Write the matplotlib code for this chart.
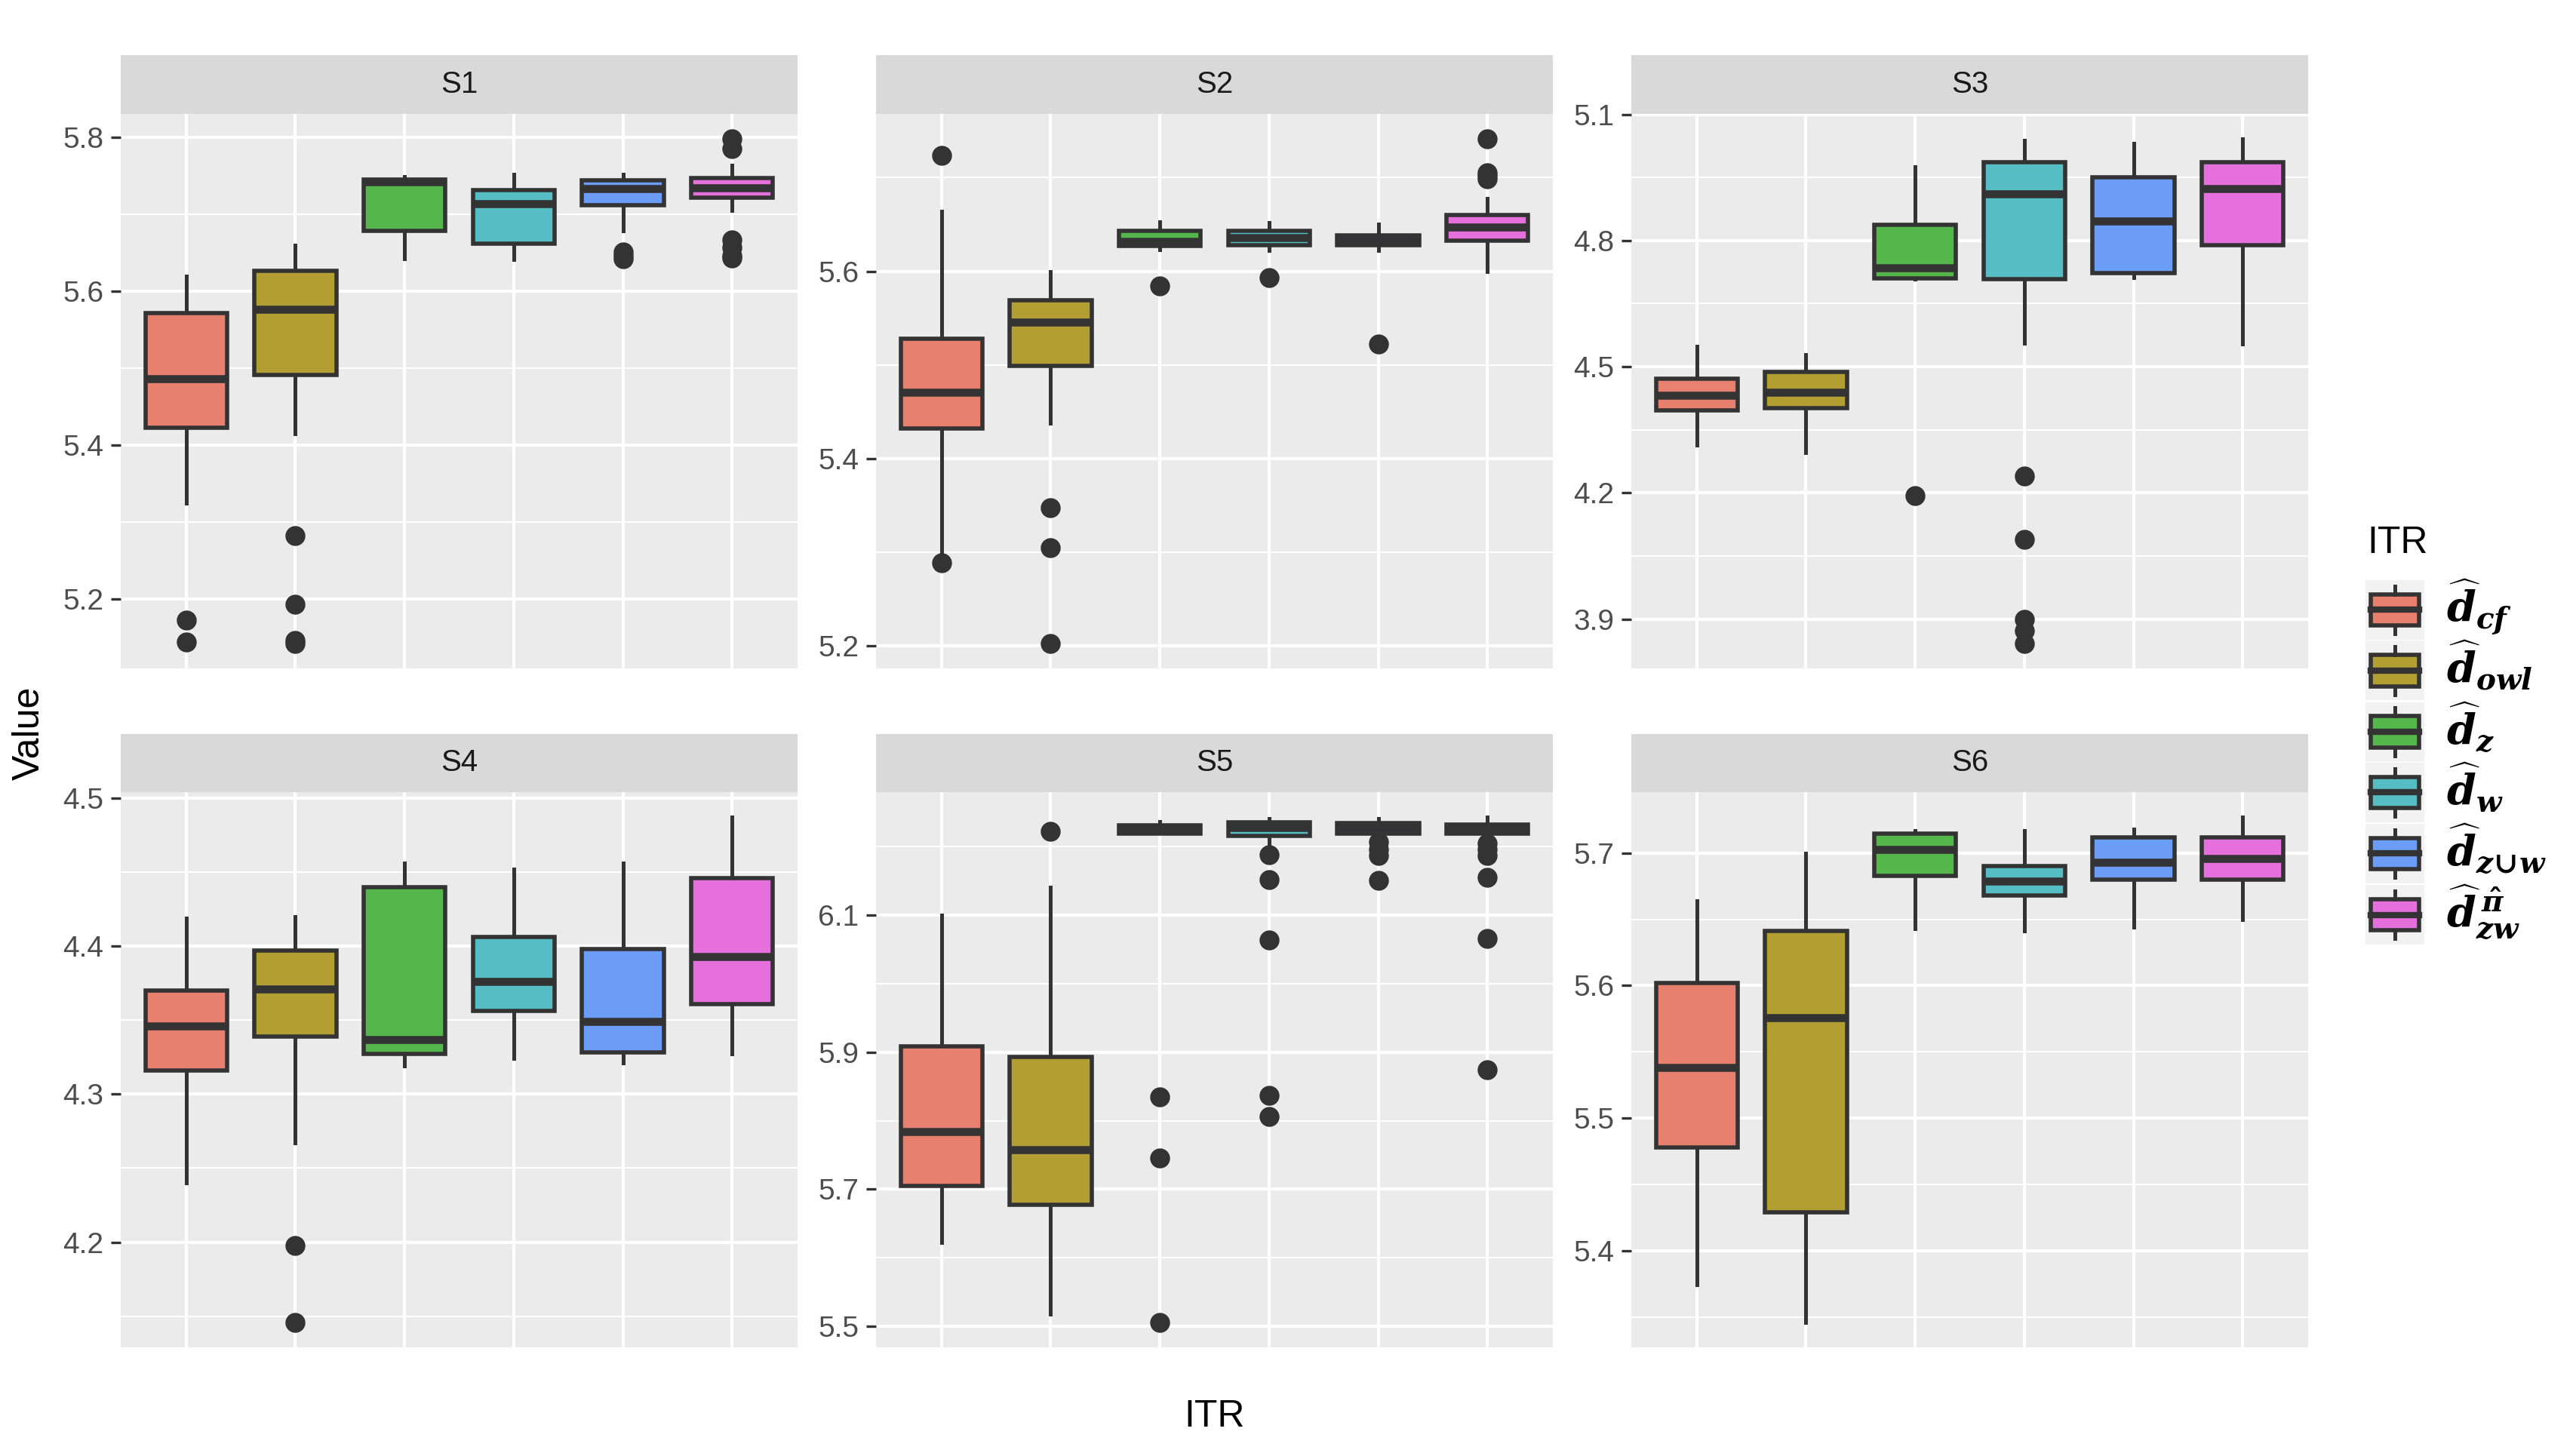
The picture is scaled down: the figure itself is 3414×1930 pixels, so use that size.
import numpy as np
import matplotlib
matplotlib.use("Agg")
import matplotlib.pyplot as plt
from matplotlib.ticker import FixedLocator, FormatStrFormatter
from matplotlib.patches import Rectangle, Patch
from matplotlib.lines import Line2D
from matplotlib.legend_handler import HandlerBase

plt.rcParams['font.family'] = ['Liberation Sans', 'DejaVu Sans']
plt.rcParams['mathtext.fontset'] = 'custom'
plt.rcParams['mathtext.it'] = 'DejaVu Serif:italic:bold'
plt.rcParams['mathtext.rm'] = 'DejaVu Serif:bold'
plt.rcParams['mathtext.bf'] = 'DejaVu Serif:italic:bold'

# ---------------- data ----------------
panels = ['S1', 'S2', 'S3', 'S4', 'S5', 'S6']
methods = [r'$\widehat{d}_{cf}$', r'$\widehat{d}_{owl}$', r'$\widehat{d}_{z}$',
           r'$\widehat{d}_{w}$', r'$\widehat{d}_{z\!\cup\! w}$', r'$\widehat{d}^{\,\hat{\pi}}_{zw}$']
colors = ['#E8806F', '#B39E33', '#54B64B', '#55BDC3', '#6B9DF7', '#E570DD']
tick_starts = [5.2, 5.2, 3.9, 4.2, 5.5, 5.4]
tick_steps = [0.2, 0.2, 0.3, 0.1, 0.2, 0.1]

s1_q1 = [5.422, 5.491, 5.679, 5.662, 5.712, 5.722]
s1_med = [5.486, 5.577, 5.742, 5.714, 5.734, 5.735]
s1_q3 = [5.572, 5.627, 5.745, 5.732, 5.744, 5.747]
s1_lo = [5.324, 5.415, 5.642, 5.641, 5.679, 5.705]
s1_hi = [5.620, 5.660, 5.749, 5.752, 5.752, 5.764]
s1_out = [[5.172, 5.144], [5.282, 5.193, 5.146, 5.142], [], [],
          [5.651, 5.646, 5.642], [5.798, 5.786, 5.667, 5.657, 5.646, 5.643]]

s2_q1 = [5.432, 5.499, 5.627, 5.628, 5.628, 5.633]
s2_med = [5.471, 5.546, 5.632, 5.636, 5.633, 5.647]
s2_q3 = [5.528, 5.569, 5.643, 5.643, 5.638, 5.660]
s2_lo = [5.295, 5.438, 5.623, 5.622, 5.622, 5.600]
s2_hi = [5.664, 5.600, 5.653, 5.652, 5.650, 5.678]
s2_out = [[5.724, 5.289], [5.348, 5.305, 5.203], [5.584], [5.593], [5.522],
          [5.741, 5.705, 5.702, 5.699]]

s3_q1 = [4.396, 4.401, 4.710, 4.709, 4.722, 4.789]
s3_med = [4.432, 4.440, 4.736, 4.910, 4.847, 4.924]
s3_q3 = [4.471, 4.488, 4.837, 4.987, 4.950, 4.987]
s3_lo = [4.313, 4.296, 4.708, 4.555, 4.711, 4.554]
s3_hi = [4.548, 4.529, 4.976, 5.038, 5.031, 5.041]
s3_out = [[], [], [4.193], [4.240, 4.090, 3.899, 3.873, 3.843], [], []]

s4_q1 = [4.316, 4.339, 4.327, 4.356, 4.328, 4.361]
s4_med = [4.346, 4.371, 4.337, 4.376, 4.349, 4.393]
s4_q3 = [4.370, 4.397, 4.440, 4.406, 4.398, 4.446]
s4_lo = [4.240, 4.267, 4.319, 4.324, 4.321, 4.327]
s4_hi = [4.419, 4.420, 4.456, 4.452, 4.456, 4.487]
s4_out = [[], [4.198, 4.146], [], [], [], []]

s5_q1 = [5.705, 5.677, 6.219, 6.216, 6.219, 6.219]
s5_med = [5.784, 5.758, 6.225, 6.228, 6.228, 6.227]
s5_q3 = [5.909, 5.893, 6.231, 6.236, 6.235, 6.233]
s5_lo = [5.622, 5.518, 6.219, 6.198, 6.217, 6.217]
s5_hi = [6.100, 6.141, 6.237, 6.241, 6.241, 6.243]
s5_out = [[], [6.223], [5.835, 5.746, 5.506], [6.188, 6.152, 6.064, 5.837, 5.806],
          [6.207, 6.196, 6.187, 6.151], [6.205, 6.196, 6.187, 6.155, 6.066, 5.875]]

s6_q1 = [5.478, 5.429, 5.683, 5.668, 5.680, 5.680]
s6_med = [5.538, 5.576, 5.703, 5.679, 5.693, 5.696]
s6_q3 = [5.602, 5.641, 5.715, 5.690, 5.712, 5.712]
s6_lo = [5.374, 5.346, 5.643, 5.641, 5.644, 5.650]
s6_hi = [5.664, 5.700, 5.717, 5.717, 5.718, 5.727]
s6_out = [[], [], [], [], [], []]

panel_data = [
    (s1_q1, s1_med, s1_q3, s1_lo, s1_hi, s1_out),
    (s2_q1, s2_med, s2_q3, s2_lo, s2_hi, s2_out),
    (s3_q1, s3_med, s3_q3, s3_lo, s3_hi, s3_out),
    (s4_q1, s4_med, s4_q3, s4_lo, s4_hi, s4_out),
    (s5_q1, s5_med, s5_q3, s5_lo, s5_hi, s5_out),
    (s6_q1, s6_med, s6_q3, s6_lo, s6_hi, s6_out),
]

# ---------------- layout ----------------
W, H = 3414, 1930
fig = plt.figure(figsize=(W / 200, H / 200), dpi=200)
fig.patch.set_facecolor('white')

col_left = [160, 1161, 2162]
panel_w = 897
rows = [(73, 151, 886), (973, 1050, 1786)]  # strip top, plot top, plot bottom

LINE = '#333333'
for i, name in enumerate(panels):
    r, c = divmod(i, 3)
    st, pt, pb = rows[r]
    x0 = col_left[c]
    ax = fig.add_axes([x0 / W, 1 - pb / H, panel_w / W, (pb - pt) / H])
    sax = fig.add_axes([x0 / W, 1 - pt / H, panel_w / W, (pt - st) / H])
    sax.set_facecolor('#D9D9D9')
    sax.set_xticks([]); sax.set_yticks([])
    for s in sax.spines.values():
        s.set_visible(False)
    sax.text(0.5, 0.5, name, ha='center', va='center', fontsize=14.5, color='#1A1A1A',
             transform=sax.transAxes)

    q1, med, q3, lo, hi, out = panel_data[i]
    stats = []
    for k in range(6):
        stats.append(dict(q1=q1[k], med=med[k], q3=q3[k], whislo=lo[k], whishi=hi[k],
                          fliers=out[k], label=''))
    ax.set_facecolor('#EBEBEB')
    ax.set_axisbelow(True)
    bp = ax.bxp(stats, positions=np.arange(1, 7), widths=0.75, patch_artist=True,
                showcaps=False, manage_ticks=False,
                boxprops=dict(edgecolor=LINE, linewidth=2.0),
                medianprops=dict(color=LINE, linewidth=3.8, solid_capstyle='butt'),
                whiskerprops=dict(color=LINE, linewidth=1.8),
                flierprops=dict(marker='o', markerfacecolor=LINE, markeredgecolor=LINE,
                                markersize=8.5, linestyle='none'))
    for patch, col in zip(bp['boxes'], colors):
        patch.set_facecolor(col)
        patch.set_zorder(3)
    for m in bp['medians']:
        m.set_zorder(4)

    allv = list(lo) + list(hi) + [v for o in out for v in o]
    vmin, vmax = min(allv), max(allv)
    pad = 0.05 * (vmax - vmin)
    ymin, ymax = vmin - pad, vmax + pad
    ax.set_ylim(ymin, ymax)
    ax.set_xlim(0.4, 6.6)

    step = tick_steps[i]
    start = tick_starts[i]
    majors = [start + n * step for n in range(12) if start + n * step <= ymax + 1e-9]
    minors = [start + (n - 0.5) * step for n in range(13)
              if ymin <= start + (n - 0.5) * step <= ymax]
    ax.yaxis.set_major_locator(FixedLocator(majors))
    ax.yaxis.set_minor_locator(FixedLocator(minors))
    ax.yaxis.set_major_formatter(FormatStrFormatter('%.1f'))
    ax.set_xticks(np.arange(1, 7))
    ax.set_xticklabels([])
    ax.tick_params(axis='x', length=0)
    ax.tick_params(axis='y', which='major', length=4.7, width=1.2, color=LINE,
                   labelsize=14, labelcolor='#4D4D4D', pad=3.5)
    ax.tick_params(axis='y', which='minor', length=0)
    ax.grid(True, which='major', color='white', linewidth=1.5)
    ax.grid(True, which='minor', axis='y', color='white', linewidth=0.75)
    for s in ax.spines.values():
        s.set_visible(False)

fig.text(39 / W, 1 - 972 / H, 'Value', rotation=90, ha='center', va='center', fontsize=18,
         color='black')
fig.text(1609.5 / W, 1 - 1878 / H, 'ITR', ha='center', va='center', fontsize=18, color='black')


# ---------------- legend ----------------
class BoxHandler(HandlerBase):
    def create_artists(self, legend, orig_handle, xdescent, ydescent, width, height,
                       fontsize, trans):
        x0, y0 = -xdescent, -ydescent
        col = orig_handle.get_facecolor()
        bg = Rectangle((x0, y0), width, height, facecolor='#F2F2F2', edgecolor='none',
                       transform=trans)
        bx = Rectangle((x0 + 0.09 * width, y0 + 0.24 * height), 0.82 * width, 0.52 * height,
                       facecolor=col, edgecolor=LINE, linewidth=2.0, transform=trans)
        xm = x0 + 0.5 * width
        w1 = Line2D([xm, xm], [y0 + 0.1 * height, y0 + 0.24 * height], color=LINE,
                    linewidth=1.8, transform=trans)
        w2 = Line2D([xm, xm], [y0 + 0.76 * height, y0 + 0.9 * height], color=LINE,
                    linewidth=1.8, transform=trans)
        md = Line2D([x0 + 0.09 * width, x0 + 0.91 * width], [y0 + 0.5 * height] * 2,
                    color=LINE, linewidth=3.0, transform=trans)
        return [bg, bx, w1, w2, md]


fig.text(3137 / W, 1 - 720 / H, 'ITR', ha='left', va='center', fontsize=18, color='black')
handles = [Patch(facecolor=c) for c in colors]
leg_fs = 20
px_per_em = leg_fs * 200 / 72
key_h_em = 79 / px_per_em
leg = fig.legend(handles, methods, loc='upper left', bbox_to_anchor=(3135 / W, 1 - 766 / H),
                 frameon=False, handler_map={Patch: BoxHandler()},
                 handlelength=78 / px_per_em, handleheight=(key_h_em - 0.245) / 0.65,
                 labelspacing=0.0, handletextpad=29 / px_per_em, borderpad=0,
                 borderaxespad=0, fontsize=leg_fs)

fig.savefig('out.png', dpi=200, facecolor='white')
